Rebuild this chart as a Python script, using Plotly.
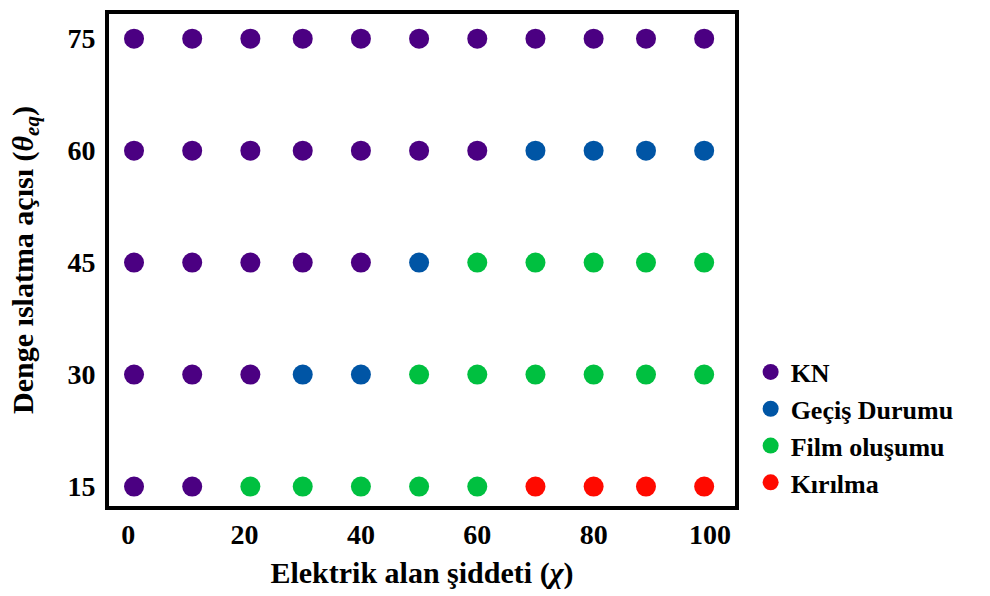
import plotly.graph_objects as go

x_values = [1, 11, 21, 30, 40, 50, 60, 70, 80, 89, 99]
y_values = [75, 60, 45, 30, 15]
x_ticks = [0, 20, 40, 60, 80, 100]
y_ticks = [15, 30, 45, 60, 75]

# state codes: 0 KN, 1 Geçiş Durumu, 2 Film oluşumu, 3 Kırılma
state_75 = [0, 0, 0, 0, 0, 0, 0, 0, 0, 0, 0]
state_60 = [0, 0, 0, 0, 0, 0, 0, 1, 1, 1, 1]
state_45 = [0, 0, 0, 0, 0, 1, 2, 2, 2, 2, 2]
state_30 = [0, 0, 0, 1, 1, 2, 2, 2, 2, 2, 2]
state_15 = [0, 0, 2, 2, 2, 2, 2, 3, 3, 3, 3]

state_names = ["KN", "Geçiş Durumu", "Film oluşumu", "Kırılma"]
state_colors = ["#4B0082", "#0055A5", "#00C040", "#FF0A00"]

rows = [state_75, state_60, state_45, state_30, state_15]

fig = go.Figure()
for k, (name, color) in enumerate(zip(state_names, state_colors)):
    xs, ys = [], []
    for yv, row in zip(y_values, rows):
        for xv, s in zip(x_values, row):
            if s == k:
                xs.append(xv)
                ys.append(yv)
    fig.add_trace(go.Scatter(x=xs, y=ys, mode="markers", name=name,
                             marker=dict(color=color, size=20, line=dict(width=0))))

font_family = "Liberation Serif"
fig.update_layout(
    width=990, height=596,
    margin=dict(l=109, r=255, t=10, b=90),
    paper_bgcolor="white", plot_bgcolor="white",
    font=dict(family=font_family, color="black", size=28, weight="bold"),
    showlegend=True,
    legend=dict(x=1.025, xanchor="left", y=0.32, yanchor="top",
                font=dict(family=font_family, size=26, color="black", weight="bold"),
                tracegroupgap=0, itemwidth=30, bgcolor="rgba(0,0,0,0)"),
    xaxis=dict(range=[-3.3, 104.3], tickvals=x_ticks, showgrid=False, zeroline=False,
               showline=True, linewidth=4, linecolor="black", mirror=True, ticks="",
               tickfont=dict(size=28, family=font_family, weight="bold"),
               title=dict(text="Elektrik alan şiddeti (<i>χ</i>)", standoff=14,
                          font=dict(size=30, family=font_family, weight="bold"))),
    yaxis=dict(range=[12.4, 78.3], tickvals=y_ticks, showgrid=False, zeroline=False,
               showline=True, linewidth=4, linecolor="black", mirror=True, ticks="",
               tickfont=dict(size=28, family=font_family, weight="bold"),
               ticklabelstandoff=4,
               title=dict(text="Denge ıslatma açısı (<i>θ<sub>eq</sub></i>)", standoff=26,
                          font=dict(size=30, family=font_family, weight="bold"))),
)

fig.write_html("out.html")
